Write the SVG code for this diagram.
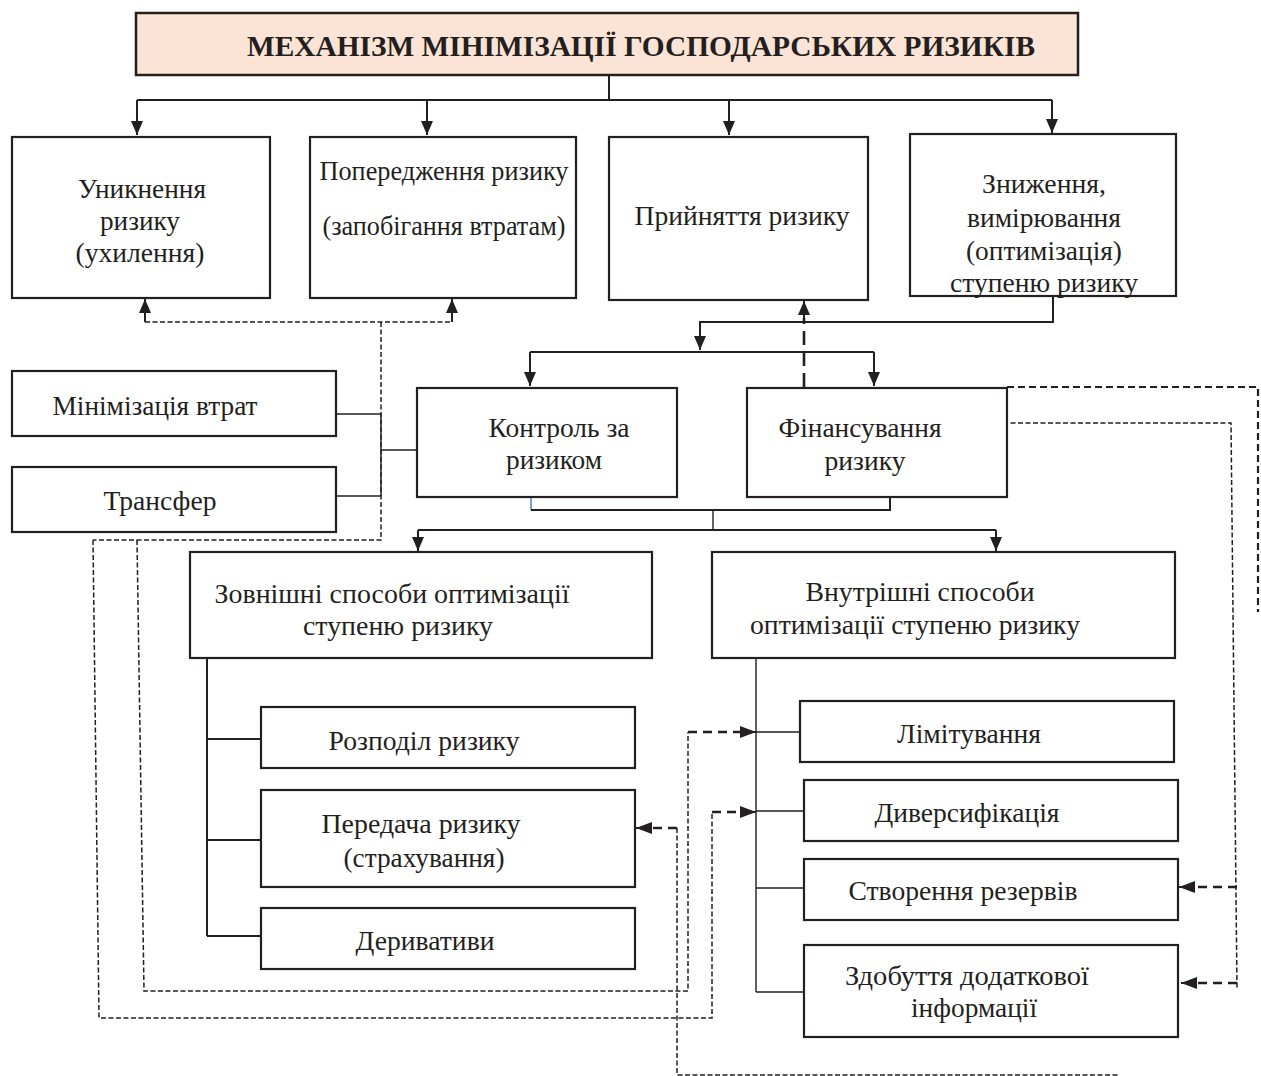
<svg xmlns="http://www.w3.org/2000/svg" width="1261" height="1076" viewBox="0 0 1261 1076">
<style>
.box{fill:#fff;stroke:#231f20;stroke-width:2.2}
.title{fill:#fbe4d5;stroke:#231f20;stroke-width:2.5}
.t{font-family:"Liberation Serif","Times New Roman",serif;font-size:27px;fill:#231f20;text-anchor:middle}
.tb{font-family:"Liberation Serif","Times New Roman",serif;font-size:29px;font-weight:bold;fill:#231f20;text-anchor:middle}
.ln{fill:none;stroke:#231f20;stroke-width:2}
.thin{fill:none;stroke:#231f20;stroke-width:1.4}
.dt{fill:none;stroke:#231f20;stroke-width:1.5;stroke-dasharray:5 2.5}
.dh{fill:none;stroke:#231f20;stroke-width:2.6;stroke-dasharray:9 6}
.dd{fill:none;stroke:#231f20;stroke-width:2.6;stroke-dasharray:14 7}
.dm{fill:none;stroke:#231f20;stroke-width:2.2;stroke-dasharray:7 4}
</style>
<defs>
<marker id="ar" viewBox="0 0 14 12" refX="14" refY="6" markerWidth="14" markerHeight="12" markerUnits="userSpaceOnUse" orient="auto">
<path d="M0,0 L14,6 L0,12 z" fill="#231f20"/>
</marker>
<marker id="ar2" viewBox="0 0 16 12" refX="16" refY="6" markerWidth="16" markerHeight="12" markerUnits="userSpaceOnUse" orient="auto">
<path d="M0,0 L16,6 L0,12 z" fill="#231f20"/>
</marker>
</defs>

<g id="connectors">
<path class="ln" d="M609,75 V100"/>
<path class="ln" d="M137,100 H1052"/>
<path class="ln" d="M137,100 V135" marker-end="url(#ar)"/>
<path class="ln" d="M427,100 V135" marker-end="url(#ar)"/>
<path class="ln" d="M729,100 V135" marker-end="url(#ar)"/>
<path class="ln" d="M1052,100 V133" marker-end="url(#ar)"/>
<path class="dt" d="M145,322 H452"/>
<path class="ln" d="M145,322 V299" marker-end="url(#ar)"/>
<path class="ln" d="M452,322 V299" marker-end="url(#ar)"/>
<path class="dt" d="M381,322 V540 H93"/>
<path class="thin" d="M336,414 H381 M336,496 H381 M381,414 V496 M381,450 H417"/>
<path class="ln" d="M1053,296 V322 H700 V350" marker-end="url(#ar)"/>
<path class="ln" d="M530,352 H874"/>
<path class="ln" d="M530,352 V386" marker-end="url(#ar)"/>
<path class="ln" d="M874,352 V386" marker-end="url(#ar)"/>
<path class="dd" d="M804,387 V318"/>
<path class="ln" d="M804,318 V301" marker-end="url(#ar)"/>
<path fill="none" stroke="#4472c4" stroke-width="1.4" d="M531,497 V510"/>
<path class="ln" d="M531,510 H890 V497"/>
<path class="thin" d="M713,510 V530"/>
<path class="ln" d="M418,530 H996"/>
<path class="ln" d="M418,530 V551" marker-end="url(#ar)"/>
<path class="ln" d="M996,530 V551" marker-end="url(#ar)"/>
<path class="ln" d="M207,658 V936 M207,739 H261 M207,840 H261 M207,936 H261"/>
<path class="thin" d="M756,658 V992 M756,732 H800 M756,811 H804 M756,888 H804 M756,992 H804"/>
<path class="dt" d="M93,540 L99,1018 H712 V812"/>
<path class="dh" d="M712,812 H740"/>
<path class="ln" d="M740,812 H756" marker-end="url(#ar2)"/>
<path class="dt" d="M137,540 L144,991 H688 V732"/>
<path class="dh" d="M688,732 H740"/>
<path class="ln" d="M740,732 H756" marker-end="url(#ar2)"/>
<path class="dt" d="M677,828 V1075 H1118"/>
<path class="dh" d="M677,828 H652"/>
<path class="ln" d="M652,828 H636" marker-end="url(#ar2)"/>
<path class="dm" d="M1007,387 H1258 V612"/>
<path class="dt" d="M1003,423 H1231 L1237,988"/>
<path class="dh" d="M1237,887 H1195"/>
<path class="ln" d="M1195,887 H1179" marker-end="url(#ar2)"/>
<path class="dh" d="M1237,983 H1197"/>
<path class="ln" d="M1197,983 H1181" marker-end="url(#ar2)"/>
</g>

<g id="title">
<rect class="title" x="136" y="13" width="942" height="62"/>
<text class="tb" x="641" y="56" textLength="788" lengthAdjust="spacingAndGlyphs">МЕХАНІЗМ МІНІМІЗАЦІЇ ГОСПОДАРСЬКИХ РИЗИКІВ</text>
</g>

<g id="avoid">
<rect class="box" x="12" y="137" width="258" height="161"/>
<text class="t" x="142" y="198" textLength="128" lengthAdjust="spacingAndGlyphs">Уникнення</text>
<text class="t" x="140" y="230" textLength="80" lengthAdjust="spacingAndGlyphs">ризику</text>
<text class="t" x="140" y="262" textLength="129" lengthAdjust="spacingAndGlyphs">(ухилення)</text>
</g>

<g id="prevent">
<rect class="box" x="310" y="137" width="266" height="161"/>
<text class="t" x="444" y="180" textLength="249" lengthAdjust="spacingAndGlyphs">Попередження ризику</text>
<text class="t" x="444" y="235" textLength="243" lengthAdjust="spacingAndGlyphs">(запобігання втратам)</text>
</g>

<g id="accept">
<rect class="box" x="609" y="137" width="259" height="163"/>
<text class="t" x="742" y="225" textLength="215" lengthAdjust="spacingAndGlyphs">Прийняття ризику</text>
</g>

<g id="reduce">
<rect class="box" x="910" y="134" width="266" height="162"/>
<text class="t" x="1044" y="193" textLength="124" lengthAdjust="spacingAndGlyphs">Зниження,</text>
<text class="t" x="1044" y="227" textLength="154" lengthAdjust="spacingAndGlyphs">вимірювання</text>
<text class="t" x="1044" y="260" textLength="156" lengthAdjust="spacingAndGlyphs">(оптимізація)</text>
<text class="t" x="1044" y="292" textLength="188" lengthAdjust="spacingAndGlyphs">ступеню ризику</text>
</g>

<g id="minloss">
<rect class="box" x="12" y="371" width="324" height="65"/>
<text class="t" x="155" y="415" textLength="205" lengthAdjust="spacingAndGlyphs">Мінімізація втрат</text>
</g>

<g id="transfer">
<rect class="box" x="12" y="467" width="324" height="65"/>
<text class="t" x="160" y="510" textLength="113" lengthAdjust="spacingAndGlyphs">Трансфер</text>
</g>

<g id="control">
<rect class="box" x="417" y="388" width="260" height="109"/>
<text class="t" x="559" y="437" textLength="141" lengthAdjust="spacingAndGlyphs">Контроль за</text>
<text class="t" x="554" y="469" textLength="96" lengthAdjust="spacingAndGlyphs">ризиком</text>
</g>

<g id="finance">
<rect class="box" x="747" y="388" width="260" height="109"/>
<text class="t" x="860" y="437" textLength="163" lengthAdjust="spacingAndGlyphs">Фінансування</text>
<text class="t" x="865" y="470" textLength="81" lengthAdjust="spacingAndGlyphs">ризику</text>
</g>

<g id="external">
<rect class="box" x="190" y="552" width="462" height="106"/>
<text class="t" x="392" y="603" textLength="355" lengthAdjust="spacingAndGlyphs">Зовнішні способи оптимізації</text>
<text class="t" x="398" y="635" textLength="190" lengthAdjust="spacingAndGlyphs">ступеню ризику</text>
</g>

<g id="internal">
<rect class="box" x="712" y="552" width="463" height="106"/>
<text class="t" x="920" y="601" textLength="229" lengthAdjust="spacingAndGlyphs">Внутрішні способи</text>
<text class="t" x="915" y="634" textLength="330" lengthAdjust="spacingAndGlyphs">оптимізації ступеню ризику</text>
</g>

<g id="distribution">
<rect class="box" x="261" y="707" width="374" height="61"/>
<text class="t" x="424" y="750" textLength="191" lengthAdjust="spacingAndGlyphs">Розподіл ризику</text>
</g>

<g id="insurance">
<rect class="box" x="261" y="790" width="374" height="97"/>
<text class="t" x="421" y="833" textLength="199" lengthAdjust="spacingAndGlyphs">Передача ризику</text>
<text class="t" x="424" y="867" textLength="161" lengthAdjust="spacingAndGlyphs">(страхування)</text>
</g>

<g id="derivatives">
<rect class="box" x="261" y="908" width="374" height="61"/>
<text class="t" x="425" y="950" textLength="139" lengthAdjust="spacingAndGlyphs">Деривативи</text>
</g>

<g id="limits">
<rect class="box" x="800" y="701" width="374" height="61"/>
<text class="t" x="969" y="743" textLength="144" lengthAdjust="spacingAndGlyphs">Лімітування</text>
</g>

<g id="diversification">
<rect class="box" x="804" y="780" width="374" height="61"/>
<text class="t" x="967" y="822" textLength="185" lengthAdjust="spacingAndGlyphs">Диверсифікація</text>
</g>

<g id="reserves">
<rect class="box" x="804" y="859" width="374" height="61"/>
<text class="t" x="963" y="900" textLength="229" lengthAdjust="spacingAndGlyphs">Створення резервів</text>
</g>

<g id="information">
<rect class="box" x="804" y="945" width="374" height="92"/>
<text class="t" x="967" y="985" textLength="244" lengthAdjust="spacingAndGlyphs">Здобуття додаткової</text>
<text class="t" x="974" y="1017" textLength="126" lengthAdjust="spacingAndGlyphs">інформації</text>
</g>
</svg>
